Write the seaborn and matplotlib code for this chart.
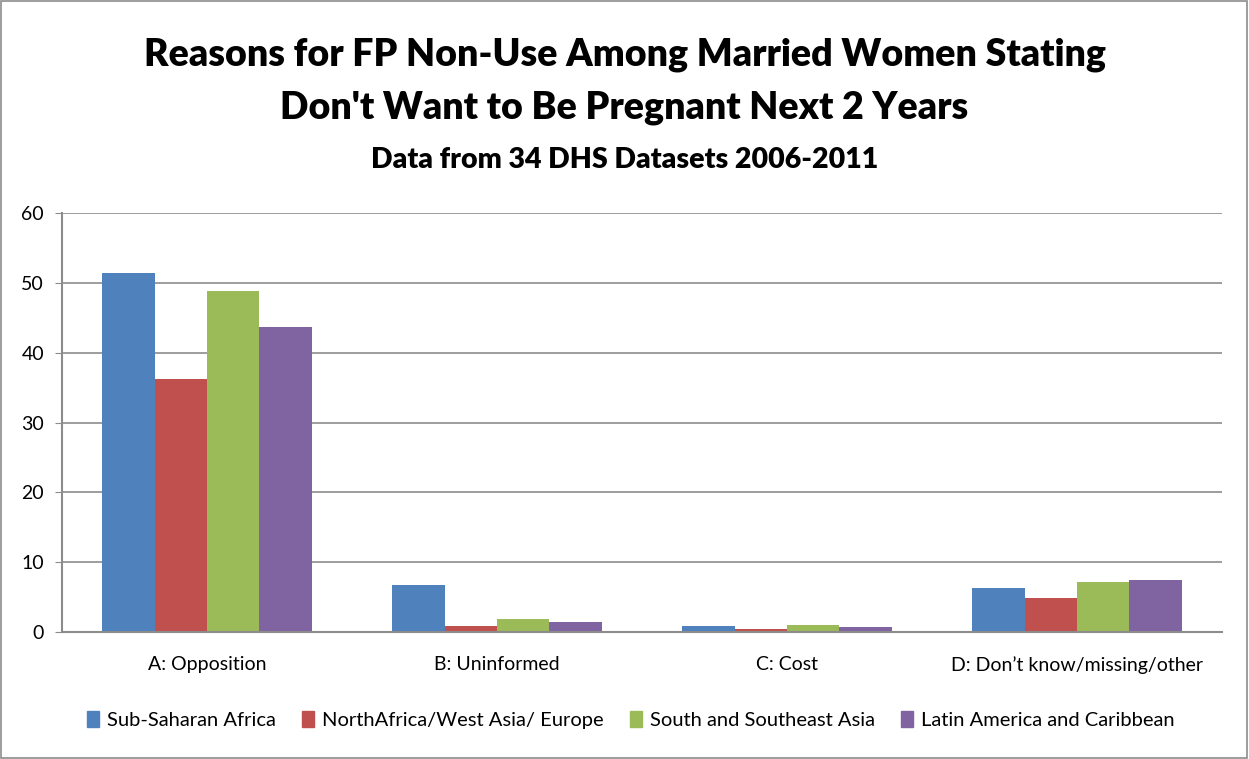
import pandas as pd
import matplotlib.pyplot as plt
import seaborn as sns
from matplotlib.patches import Rectangle

categories = ["A: Opposition", "B: Uninformed", "C: Cost", "D: Don\u2019t know/missing/other"]
regions = ["Sub-Saharan Africa", "NorthAfrica/West Asia/ Europe",
           "South and Southeast Asia", "Latin America and Caribbean"]
ssa = [51.4, 6.7, 0.8, 6.3]
nawa = [36.2, 0.9, 0.4, 4.9]
ssea = [48.9, 1.8, 1.0, 7.1]
lac = [43.7, 1.4, 0.7, 7.5]
colors = ["#4F81BD", "#C0504D", "#9BBB59", "#8064A2"]

rows = []
for region, vals in zip(regions, [ssa, nawa, ssea, lac]):
    for cat, v in zip(categories, vals):
        rows.append({"category": cat, "region": region, "value": v})
df = pd.DataFrame(rows)

sns.set_style("white")
plt.rcParams['font.family'] = ['Lato', 'DejaVu Sans']
plt.rcParams['text.color'] = 'black'
plt.rcParams['xtick.color'] = 'black'
plt.rcParams['ytick.color'] = 'black'

fig = plt.figure(figsize=(12.49, 7.59), dpi=100)
ax = fig.add_axes([62 / 1249, 1 - 632 / 759, 1160 / 1249, 419 / 759])

sns.barplot(data=df, x="category", y="value", hue="region", palette=colors,
            width=0.724, gap=0, saturation=1, linewidth=0, ax=ax, legend=False)

ax.set_ylim(0, 60)
ax.set_yticks(range(0, 61, 10))
ax.set_xlim(-0.5, 3.5)
ax.yaxis.grid(True, color="#8c8c8c", linewidth=1.2)
ax.set_axisbelow(True)
for s in ["top", "right"]:
    ax.spines[s].set_visible(False)
for s in ["left", "bottom"]:
    ax.spines[s].set_color("#8c8c8c")
    ax.spines[s].set_linewidth(1.5)
ax.tick_params(axis="y", left=True, length=5, color="#8c8c8c", labelcolor="black",
               labelsize=14, pad=8)
ax.tick_params(axis="x", bottom=False, labelcolor="black", labelsize=14, pad=14)
ax.set_xlabel("")
ax.set_ylabel("")

fig.text(0.5, 1 - 55 / 759, "Reasons for FP Non-Use Among Married Women Stating",
         ha="center", va="center", fontsize=27, fontweight="heavy")
fig.text(0.5, 1 - 108 / 759, "Don't Want to Be Pregnant Next 2 Years",
         ha="center", va="center", fontsize=27, fontweight="heavy")
fig.text(0.5, 1 - 160 / 759, "Data from 34 DHS Datasets 2006-2011",
         ha="center", va="center", fontsize=20.5, fontweight="heavy")

handles = [Rectangle((0, 0), 1, 1, color=c) for c in colors]
fig.legend(handles, regions, loc="center", bbox_to_anchor=(0.505, 1 - 720 / 759),
           ncol=4, frameon=False, fontsize=14.5, handlelength=0.6, handleheight=0.8,
           handletextpad=0.4, columnspacing=1.3)

fig.patches.append(Rectangle((0.0005, 0.001), 0.998, 0.998, transform=fig.transFigure,
                             fill=False, edgecolor="#8c8c8c", linewidth=1.2))

fig.savefig("out.png", dpi=100)
